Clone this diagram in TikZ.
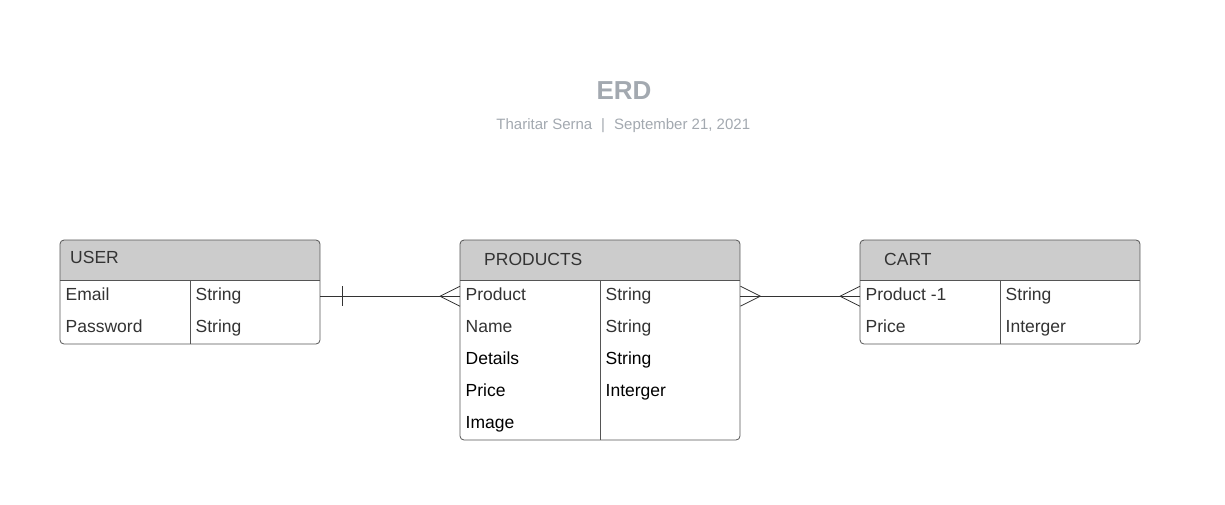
\documentclass[tikz,border=0pt]{standalone}
\usepackage{fontspec}
\setmainfont{Liberation Sans}
\usetikzlibrary{calc}
\definecolor{headgray}{HTML}{CCCCCC}
\definecolor{titlegray}{HTML}{A3A9B0}
\definecolor{linegray}{HTML}{555555}
\definecolor{txtdark}{HTML}{333333}
\begin{document}
\begin{tikzpicture}[x=1pt,y=-1pt,
  outline/.style={draw=linegray, line width=0.8pt, rounded corners=4pt},
  divider/.style={draw=linegray, line width=0.8pt},
  rowbox/.style={minimum height=32pt, inner sep=0pt, anchor=north west},
  txt/.style={anchor=west, inner sep=0pt, text height=12.5pt, text depth=3.5pt,
    font=\fontsize{17.5}{20}\selectfont, text=txtdark},
  txtb/.style={txt, text=black},
  hdrtxt/.style={anchor=base west, inner sep=0pt, font=\fontsize{17.5}{20}\selectfont, text=txtdark},
  conn/.style={draw=txtdark, line width=0.8pt}]
\useasboundingbox (0,0) rectangle (1225,504);
\fill[white] (0,0) rectangle (1225,504);

% Title
\node[anchor=base, inner sep=0pt, font=\bfseries\fontsize{26}{30}\selectfont, text=titlegray] (title) at (624,99.5) {ERD};
\node[anchor=base east, inner sep=0pt, font=\fontsize{15}{18}\selectfont, text=titlegray] (author) at (592.5,129.5) {Tharitar Serna};
\node[anchor=base, inner sep=0pt, font=\fontsize{15}{18}\selectfont, text=titlegray] (sep) at (603,129.5) {|};
\node[anchor=base west, inner sep=0pt, font=\fontsize{15}{18}\selectfont, text=titlegray] (date) at (614,129.5) {September 21, 2021};

% USER
\begin{scope}
  \clip[rounded corners=4pt] (60,240) rectangle (320,344);
  \fill[headgray] (60,240) rectangle (320,280);
\end{scope}
\path[outline] (60,240) rectangle (320,344);
\draw[divider] (60,280) -- (320,280);
\draw[divider] (190,280) -- (190,344);
\node[hdrtxt] (userT) at (70,263.5) {USER};
\node[rowbox, minimum width=260pt] (u1) at (60,280) {};
\node[rowbox, minimum width=260pt] (u2) at (60,312) {};
\node[txt] (u1a) at ($(u1.west)+(5.5,0)$) {Email};
\node[txt] (u1b) at ($(u1.west)+(135.5,0)$) {String};
\node[txt] (u2a) at ($(u2.west)+(5.5,0)$) {Password};
\node[txt] (u2b) at ($(u2.west)+(135.5,0)$) {String};

% PRODUCTS
\begin{scope}
  \clip[rounded corners=4pt] (460,240) rectangle (740,440);
  \fill[headgray] (460,240) rectangle (740,280);
\end{scope}
\path[outline] (460,240) rectangle (740,440);
\draw[divider] (460,280) -- (740,280);
\draw[divider] (600,280) -- (600,440);
\node[hdrtxt] (prodT) at (484,265) {PRODUCTS};
\node[rowbox, minimum width=280pt] (p1) at (460,280) {};
\node[rowbox, minimum width=280pt] (p2) at (460,312) {};
\node[rowbox, minimum width=280pt] (p3) at (460,344) {};
\node[rowbox, minimum width=280pt] (p4) at (460,376) {};
\node[rowbox, minimum width=280pt] (p5) at (460,408) {};
\node[txt] (p1a) at ($(p1.west)+(5.5,0)$) {Product};
\node[txt] (p1b) at ($(p1.west)+(145.5,0)$) {String};
\node[txt] (p2a) at ($(p2.west)+(5.5,0)$) {Name};
\node[txt] (p2b) at ($(p2.west)+(145.5,0)$) {String};
\node[txtb] (p3a) at ($(p3.west)+(5.5,0)$) {Details};
\node[txtb] (p3b) at ($(p3.west)+(145.5,0)$) {String};
\node[txtb] (p4a) at ($(p4.west)+(5.5,0)$) {Price};
\node[txtb] (p4b) at ($(p4.west)+(145.5,0)$) {Interger};
\node[txtb] (p5a) at ($(p5.west)+(5.5,0)$) {Image};

% CART
\begin{scope}
  \clip[rounded corners=4pt] (860,240) rectangle (1140,344);
  \fill[headgray] (860,240) rectangle (1140,280);
\end{scope}
\path[outline] (860,240) rectangle (1140,344);
\draw[divider] (860,280) -- (1140,280);
\draw[divider] (1000,280) -- (1000,344);
\node[hdrtxt] (cartT) at (884,265) {CART};
\node[rowbox, minimum width=280pt] (c1) at (860,280) {};
\node[rowbox, minimum width=280pt] (c2) at (860,312) {};
\node[txt] (c1a) at ($(c1.west)+(5.5,0)$) {Product -1};
\node[txt] (c1b) at ($(c1.west)+(145.5,0)$) {String};
\node[txt] (c2a) at ($(c2.west)+(5.5,0)$) {Price};
\node[txt] (c2b) at ($(c2.west)+(145.5,0)$) {Interger};

% USER -- PRODUCTS (one to many)
\draw[conn] (u1.east) -- (p1.west);
\draw[conn] ($(u1.east)+(22,-10)$) -- ($(u1.east)+(22,10)$);
\draw[conn] ($(p1.west)+(0,-10)$) -- ($(p1.west)+(-20,0)$) -- ($(p1.west)+(0,10)$);

% PRODUCTS -- CART (many to many)
\draw[conn] (p1.east) -- (c1.west);
\draw[conn] ($(p1.east)+(0,-10)$) -- ($(p1.east)+(20,0)$) -- ($(p1.east)+(0,10)$);
\draw[conn] ($(c1.west)+(0,-10)$) -- ($(c1.west)+(-20,0)$) -- ($(c1.west)+(0,10)$);
\end{tikzpicture}
\end{document}
